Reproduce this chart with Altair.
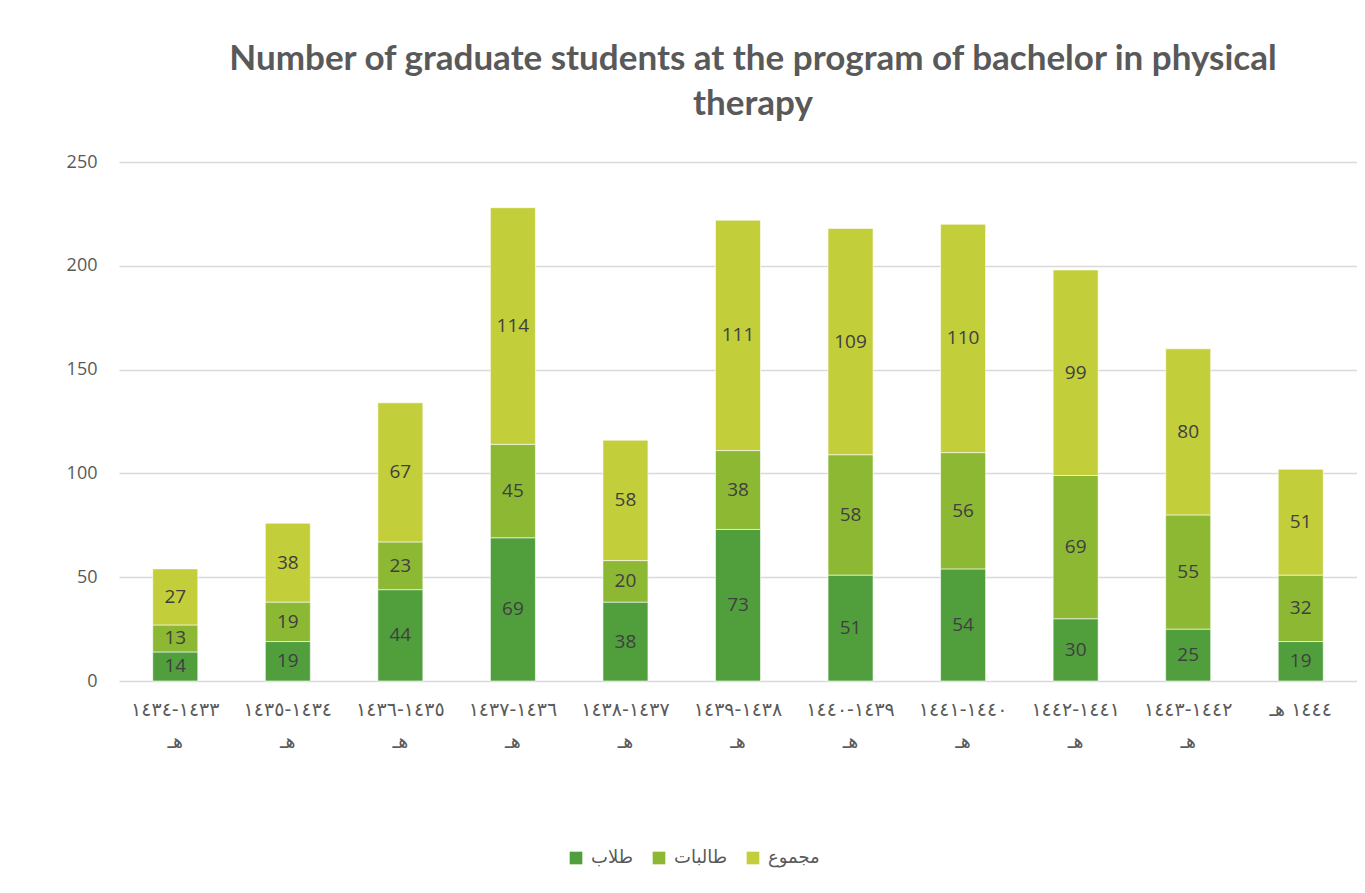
import altair as alt
import pandas as pd

years = ["١٤٣٣-١٤٣٤ هـ", "١٤٣٤-١٤٣٥ هـ", "١٤٣٥-١٤٣٦ هـ", "١٤٣٦-١٤٣٧ هـ",
         "١٤٣٧-١٤٣٨ هـ", "١٤٣٨-١٤٣٩ هـ", "١٤٣٩-١٤٤٠ هـ", "١٤٤٠-١٤٤١ هـ",
         "١٤٤١-١٤٤٢ هـ", "١٤٤٢-١٤٤٣ هـ", "١٤٤٤ هـ"]
series = ["طلاب", "طالبات", "مجموع"]
male = [14, 19, 44, 69, 38, 73, 51, 54, 30, 25, 19]
female = [13, 19, 23, 45, 20, 38, 58, 56, 69, 55, 32]
total = [27, 38, 67, 114, 58, 111, 109, 110, 99, 80, 51]
colors = ["#519E3D", "#8CB833", "#C3CE3B"]

title_lines = ["Number of graduate students at the program of bachelor in physical",
               "therapy"]

rows = []
for i, y in enumerate(years):
    for k, (s, vals) in enumerate(zip(series, [male, female, total])):
        rows.append({"year": y, "series": s, "idx": k, "value": vals[i]})
df = pd.DataFrame(rows)

base = alt.Chart(df).transform_stack(
    stack="value", groupby=["year"], sort=[alt.SortField("idx", order="ascending")],
    as_=["y0", "y1"]
).transform_calculate(mid="(datum.y0 + datum.y1) / 2")

x_enc = alt.X("year:N", sort=years, title=None,
              scale=alt.Scale(paddingInner=0.6, paddingOuter=0.3),
              axis=alt.Axis(labelAngle=0, ticks=False, domain=False, grid=False,
                            labelExpr="length(datum.label) > 8 ? split(datum.label, ' ') : datum.label",
                            labelFont="DejaVu Sans", labelFontSize=19, labelColor="#595959",
                            labelLineHeight=32, labelPadding=19, labelBaseline="top"))

bars = base.mark_bar(stroke="#ffffff", strokeWidth=1, strokeOpacity=0.6).encode(
    x=x_enc,
    y=alt.Y("y0:Q", title=None, scale=alt.Scale(domain=[0, 250], nice=False),
            axis=alt.Axis(values=[0, 50, 100, 150, 200, 250], ticks=False, domain=False,
                          gridColor="#d9d9d9", gridWidth=1.5, labelFont="Open Sans",
                          labelFontSize=18, labelColor="#595959", labelPadding=22)),
    y2="y1:Q",
    color=alt.Color("series:N", sort=series,
                    scale=alt.Scale(domain=series, range=colors),
                    legend=alt.Legend(title=None, orient="none", direction="horizontal",
                                      legendX=448, legendY=687, symbolType="square",
                                      symbolSize=160, symbolStrokeWidth=0,
                                      labelFont="DejaVu Sans", labelFontSize=18,
                                      labelColor="#595959", columnPadding=16,
                                      labelOffset=6)),
)

labels = base.mark_text(font="Open Sans", fontSize=19, color="#404040").encode(
    x=alt.X("year:N", sort=years),
    y=alt.Y("mid:Q"),
    text=alt.Text("value:Q"),
)

chart = alt.layer(bars, labels).properties(
    width=1238, height=519,
    padding={"left": 58, "top": 34, "right": 0, "bottom": 10},
    title=alt.TitleParams(text=title_lines, font="Lato", fontSize=35, fontWeight="bold",
                          color="#595959", lineHeight=45, anchor="middle", dx=15, offset=31),
).configure_view(strokeWidth=0)

chart.save("out.html", embed_options={"renderer": "svg", "actions": False})
